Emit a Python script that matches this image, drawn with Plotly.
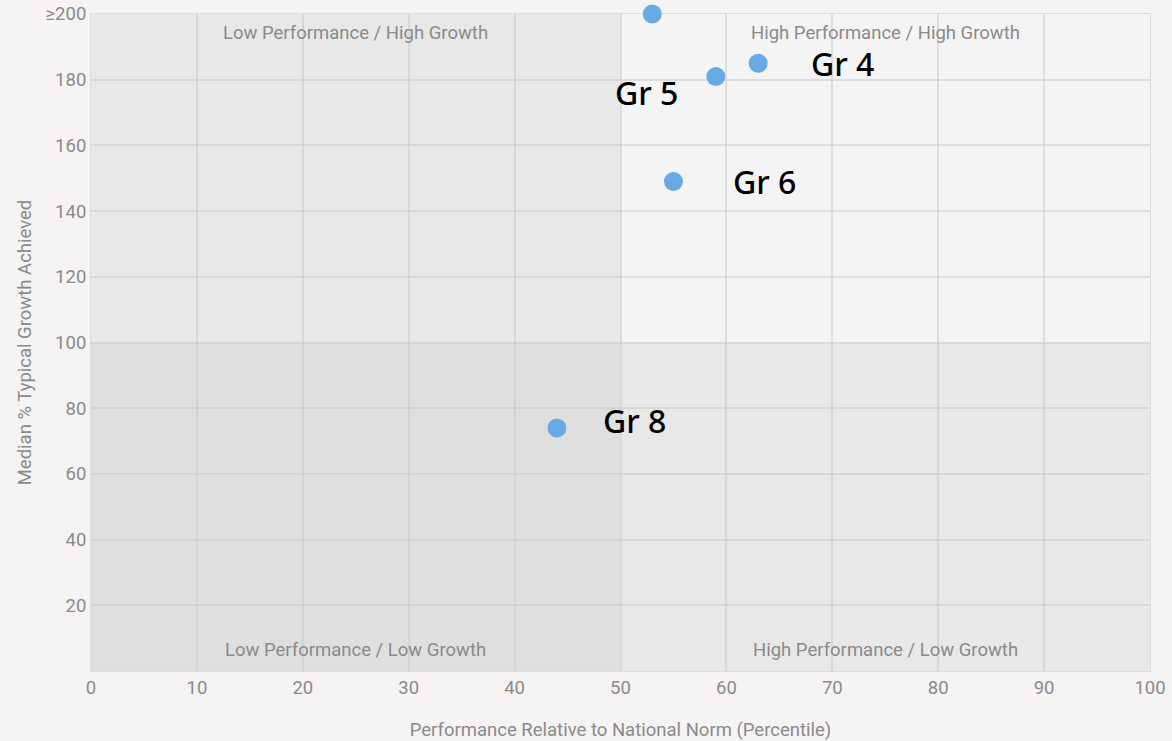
import plotly.graph_objects as go

# Data
grades = ["Gr 4", "Gr 5", "Gr 6", "Gr 8", ""]
percentile = [63, 59, 55, 44, 53]
growth = [185, 181, 149, 74, 200]
label_xshift = [84, -69, 91, 78, 0]
label_yshift = [0, -16, 0, 7, 0]

x_ticks = list(range(0, 101, 10))
y_ticks = list(range(20, 201, 20))
y_ticktext = [str(v) for v in y_ticks[:-1]] + ["≥200"]

quadrants = [
    (0, 50, 100, 200, "#e8e8e8", "Low Performance / High Growth", 25, 194.2),
    (50, 100, 100, 200, "#f5f4f5", "High Performance / High Growth", 75, 194.2),
    (0, 50, 0, 100, "#dfdfdf", "Low Performance / Low Growth", 25, 6.3),
    (50, 100, 0, 100, "#e8e8e8", "High Performance / Low Growth", 75, 6.3),
]

GRAY = "#8a8a8a"
FS = 18.5

fig = go.Figure()
fig.add_trace(go.Scatter(
    x=percentile, y=growth, mode="markers",
    marker=dict(size=19, color="#6aaae4", line=dict(width=0)),
    hoverinfo="skip", showlegend=False, cliponaxis=False,
))

shapes = []
annotations = []
for x0, x1, y0, y1, col, label, lx, ly in quadrants:
    shapes.append(dict(type="rect", xref="x", yref="y", x0=x0, x1=x1, y0=y0, y1=y1,
                       fillcolor=col, line=dict(width=0), layer="below"))
    annotations.append(dict(x=lx, y=ly, xref="x", yref="y", text=label, showarrow=False,
                            font=dict(family="Roboto", size=FS, color=GRAY)))

for g, px, gy, xs, ys in zip(grades, percentile, growth, label_xshift, label_yshift):
    if g:
        annotations.append(dict(x=px, y=gy, xref="x", yref="y", text=g, showarrow=False,
                                xshift=xs, yshift=ys,
                                font=dict(family="Noto Sans", size=32, color="#000000", weight=500)))

fig.update_layout(
    width=1172, height=741,
    margin=dict(l=91, r=22, t=14, b=70, autoexpand=False),
    paper_bgcolor="#f5f3f4", plot_bgcolor="#f5f4f5",
    shapes=shapes, annotations=annotations,
    font=dict(family="Roboto", color=GRAY, size=FS),
    xaxis=dict(range=[0, 100], tickvals=x_ticks, showgrid=True, gridcolor="rgba(200,200,200,0.5)",
               gridwidth=1.5, zeroline=False, ticks="", ticklen=0, automargin=False,
               title=dict(text="Performance Relative to National Norm (Percentile)", standoff=24,
                          font=dict(size=FS, color=GRAY)),
               tickfont=dict(size=FS, color=GRAY),
               showline=True, linecolor="#dcdcdc", mirror=True, layer="below traces"),
    yaxis=dict(range=[0, 200], tickvals=y_ticks, ticktext=y_ticktext, showgrid=True,
               gridcolor="rgba(200,200,200,0.5)", gridwidth=1.5, zeroline=False, automargin=False,
               title=dict(text="Median % Typical Growth Achieved", standoff=8,
                          font=dict(size=FS, color=GRAY)),
               tickfont=dict(size=FS, color=GRAY), ticks="", ticklen=0,
               showline=True, linecolor="#dcdcdc", mirror=True, layer="below traces"),
)

fig.write_html("out.html", config={"displayModeBar": False},
               post_script="document.body.style.margin='0px';document.body.style.background='#f5f3f4';")
